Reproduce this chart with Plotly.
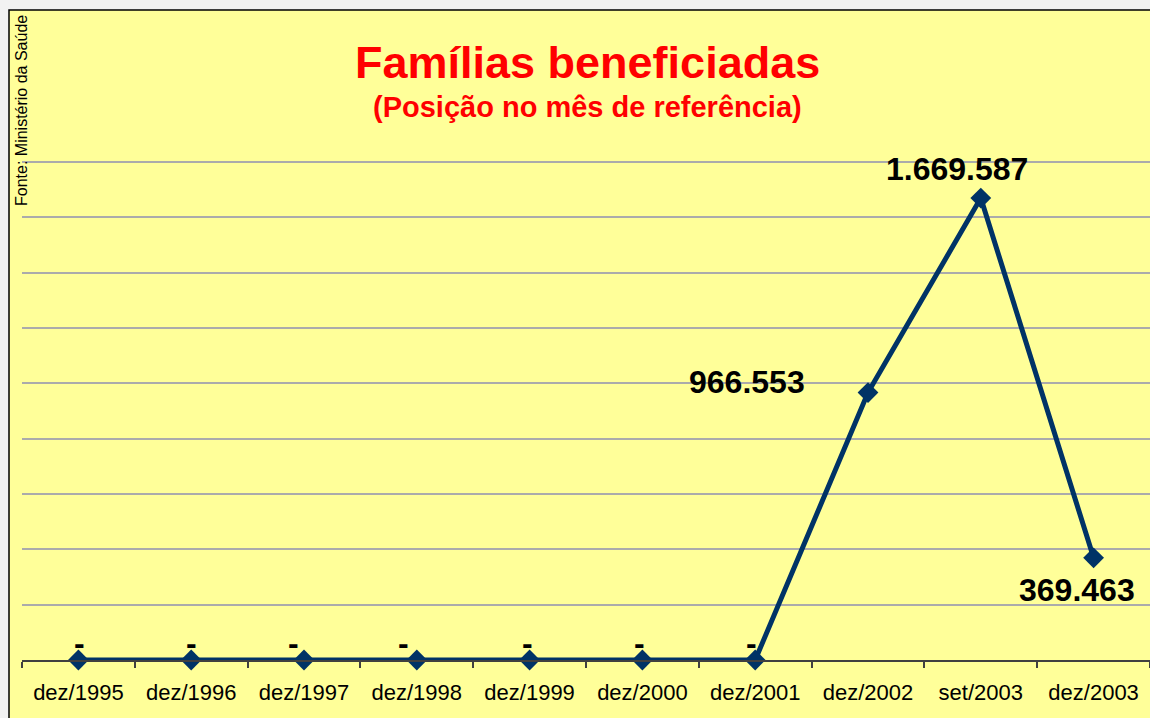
import plotly.graph_objects as go

categories = ["dez/1995", "dez/1996", "dez/1997", "dez/1998", "dez/1999",
              "dez/2000", "dez/2001", "dez/2002", "set/2003", "dez/2003"]
familias = [0, 0, 0, 0, 0, 0, 0, 966553, 1669587, 369463]

title_text = "Famílias beneficiadas"
subtitle_text = "(Posição no mês de referência)"
source_text = "Fonte: Ministério da Saúde"

Y_MAX = 1800000
Y_STEP = 200000


def fmt(v):
    if v == 0:
        return "-"
    return f"{v:,}".replace(",", ".")


# label placement (pixel shifts relative to each point)
label_shift = [(1, 17), (0, 17), (-11, 17), (-13, 17), (-2, 17), (-3, 17), (-4, 17),
               (-61, 11), (-24, 29), (-17, -32)]
label_anchor = ["center"] * 7 + ["right", "center", "center"]

FONT = "Liberation Sans, Arial, Helvetica, sans-serif"
LINE_COLOR = "#003366"
BG = "#FFFF99"

W, H = 1150, 718
TOP_PAD = 3  # extra px above the top gridline so it is not clipped
ML, MR, MT, MB = 22, 0, 162 - TOP_PAD, 58
PW = W - ML - MR
PH = H - MT - MB
Y_TOP = Y_MAX * PH / (PH - TOP_PAD)


def px_x(p):
    return (p - ML) / PW


def px_y(p):
    return (H - MB - p) / PH


fig = go.Figure()
fig.add_trace(go.Scatter(
    x=categories, y=familias, mode="lines+markers",
    line=dict(color=LINE_COLOR, width=5),
    marker=dict(symbol="diamond", size=16, color=LINE_COLOR),
    cliponaxis=False,
    hoverinfo="x+y", showlegend=False,
))

annotations = []
for c, v, (dx, dy), anc in zip(categories, familias, label_shift, label_anchor):
    annotations.append(dict(
        x=c, y=v, xref="x", yref="y", text=fmt(v), showarrow=False,
        xanchor=anc, yanchor="middle", xshift=dx, yshift=dy,
        font=dict(family=FONT, size=32, color="black", weight="bold"),
    ))

annotations.append(dict(
    x=px_x(587), y=px_y(62), xref="paper", yref="paper", text=title_text,
    showarrow=False, xanchor="center", yanchor="middle",
    font=dict(family=FONT, size=45, color="#FF0000", weight="bold"),
))
annotations.append(dict(
    x=px_x(587), y=px_y(107), xref="paper", yref="paper", text=subtitle_text,
    showarrow=False, xanchor="center", yanchor="middle",
    font=dict(family=FONT, size=29, color="#FF0000", weight="bold"),
))
annotations.append(dict(
    x=px_x(22), y=px_y(111), xref="paper", yref="paper", text=source_text,
    showarrow=False, xanchor="center", yanchor="middle", textangle=-90,
    font=dict(family=FONT, size=16, color="black"),
))

fig.update_layout(
    width=W, height=H,
    margin=dict(l=ML, r=MR, t=MT, b=MB, pad=0),
    paper_bgcolor="#F2F2F2",
    plot_bgcolor="rgba(0,0,0,0)",
    showlegend=False,
    annotations=annotations,
    shapes=[dict(
        type="rect", xref="paper", yref="paper", layer="below",
        x0=px_x(9), x1=px_x(1200), y0=px_y(760), y1=px_y(10),
        fillcolor=BG, line=dict(color="black", width=1.5),
    )],
    xaxis=dict(
        type="category", range=[-0.5, len(categories) - 0.5],
        showline=True, linecolor="#404040", linewidth=1.5,
        ticks="outside", tickson="boundaries", ticklen=6, tickcolor="#404040",
        tickwidth=1.5, showgrid=False, zeroline=False,
        tickfont=dict(family=FONT, size=22, color="black"),
        ticklabelstandoff=12,
    ),
    yaxis=dict(
        range=[0, Y_TOP], tick0=0, dtick=Y_STEP, showticklabels=False,
        showgrid=True, gridcolor="#ABABAB", gridwidth=1.5,
        zeroline=False, showline=False, ticks="",
    ),
)

fig.write_html(
    "out.html",
    config={"displayModeBar": False},
    post_script=("document.body.style.margin='0';"
                 "document.body.style.overflow='hidden';"
                 "document.body.style.background='#F2F2F2';"),
)
